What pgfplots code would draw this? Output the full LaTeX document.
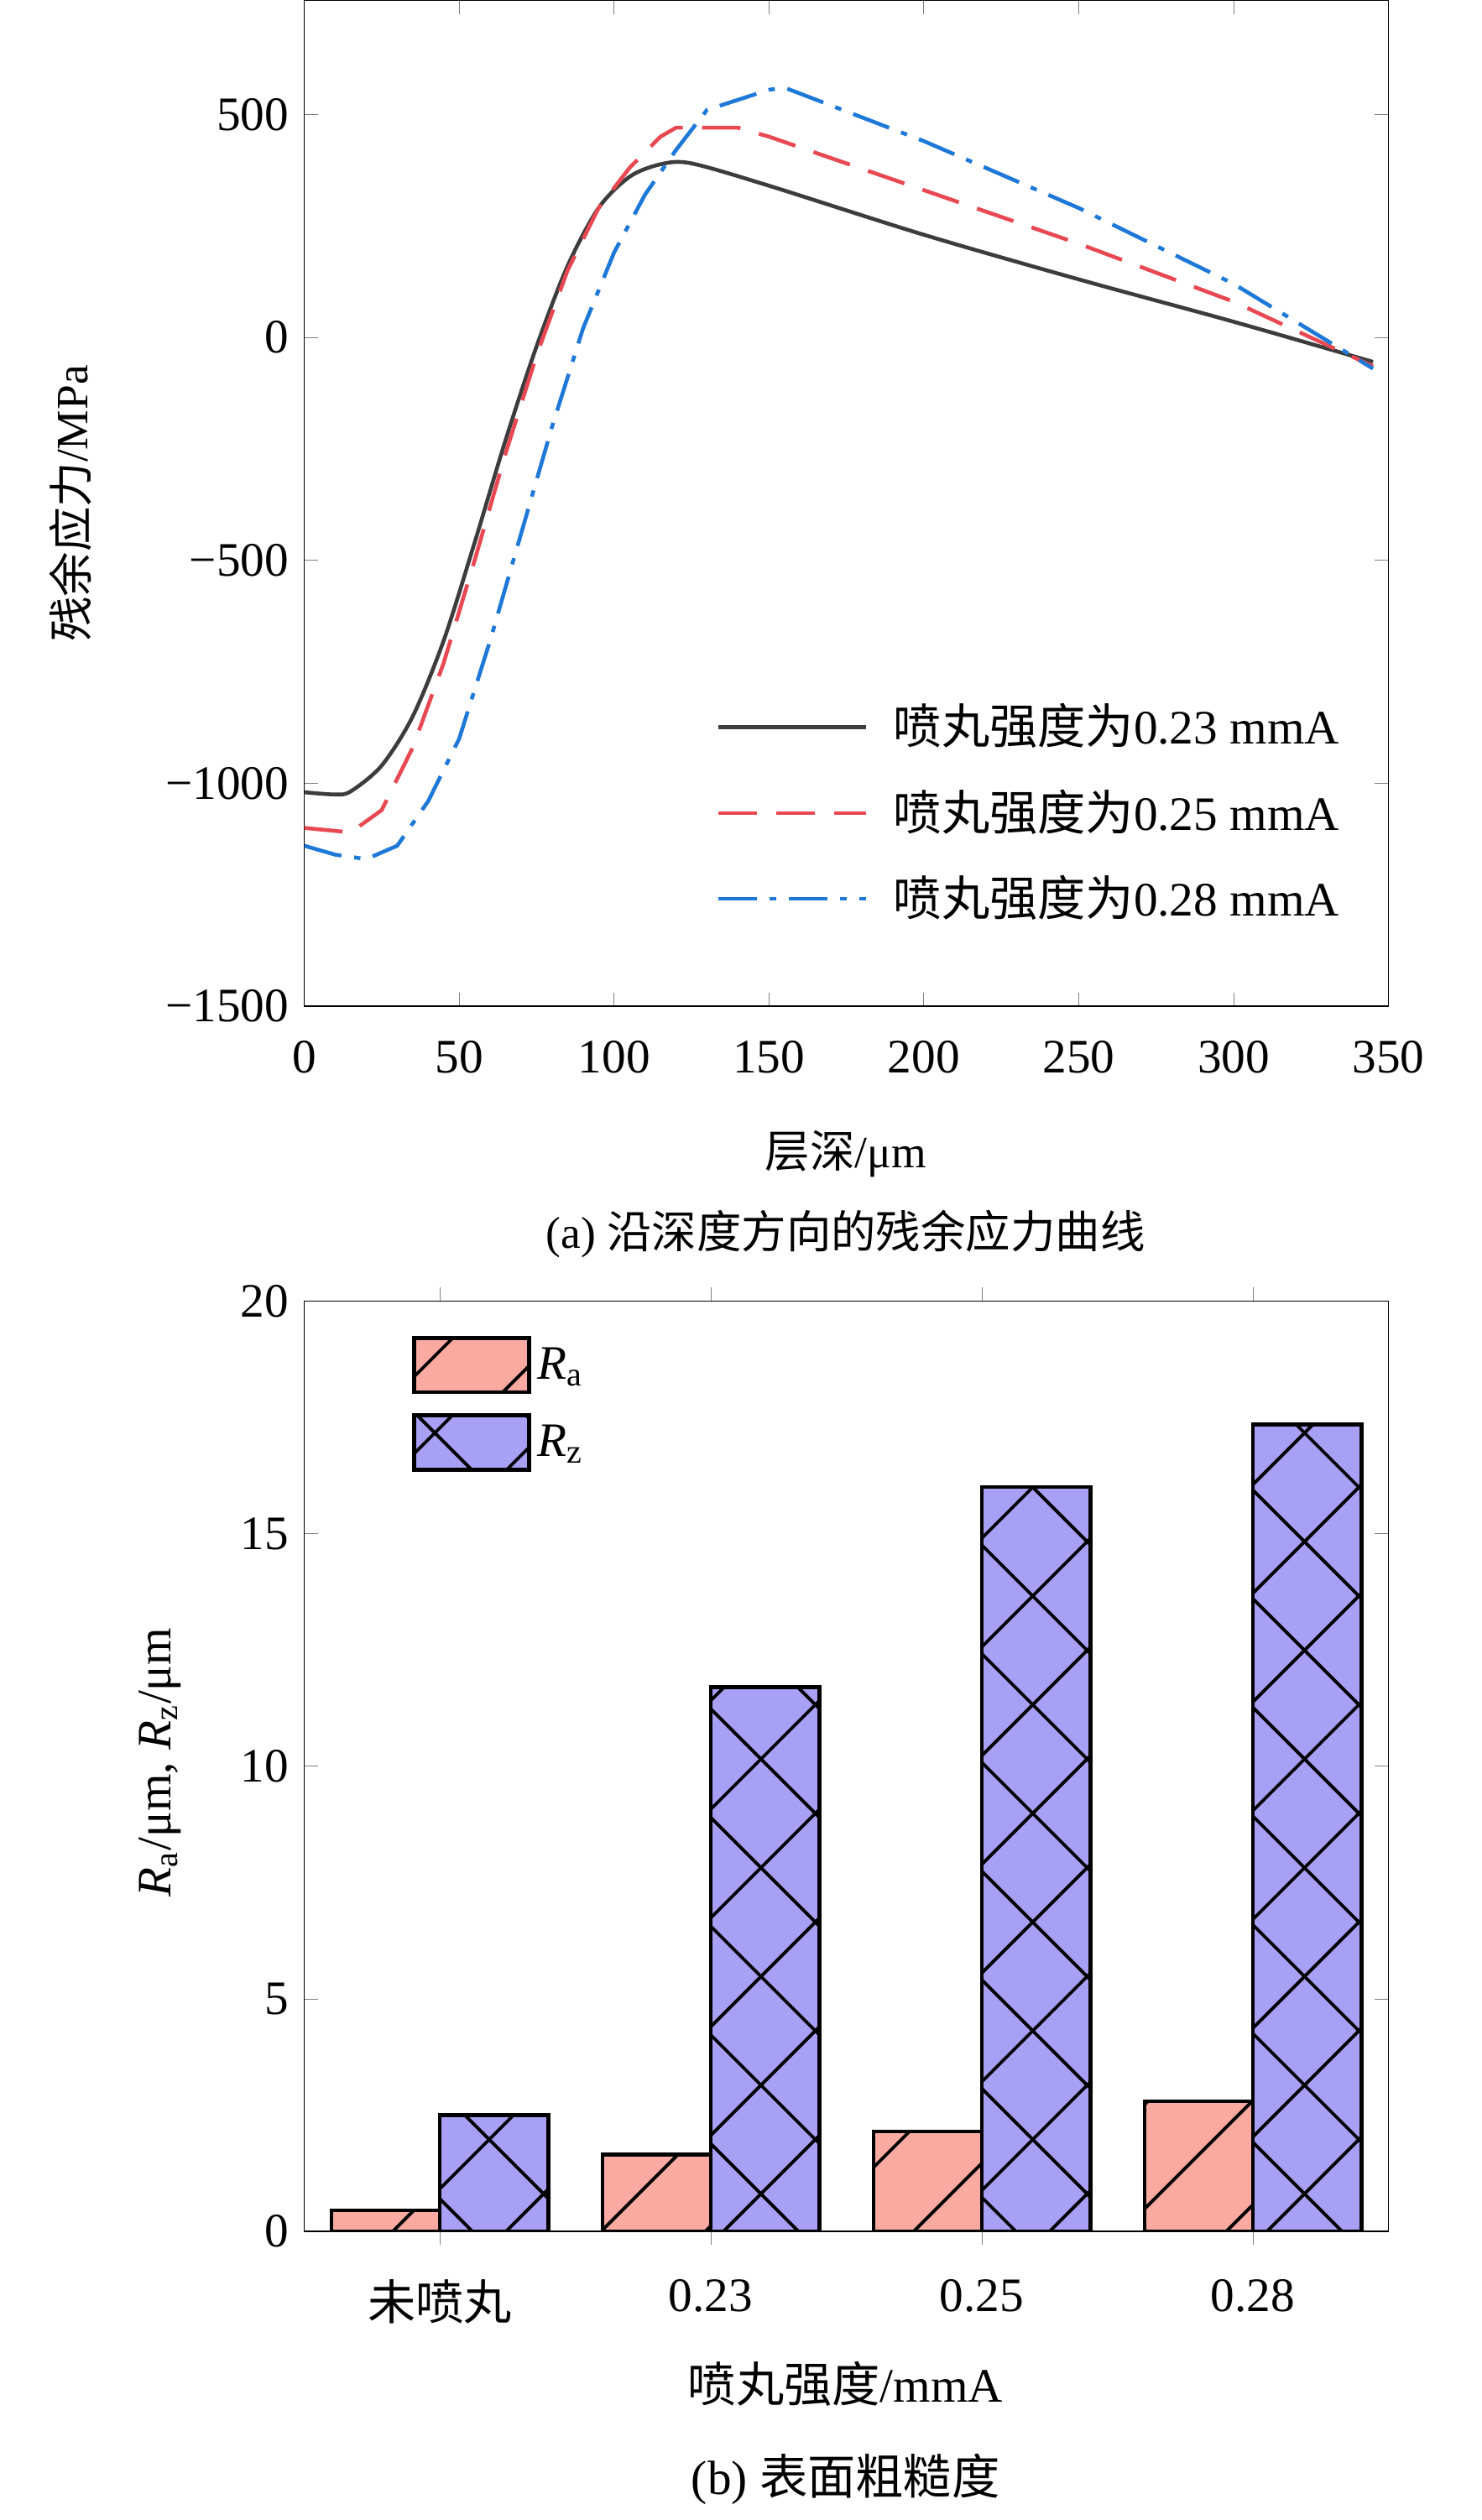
\documentclass[border=0pt]{standalone}
\usepackage{pgfplots}
\pgfplotsset{compat=1.18}
\usepackage{fontspec}
\setmainfont{Liberation Serif}
\newfontfamily\cjk{Noto Sans CJK SC}
\usetikzlibrary{patterns.meta}
\definecolor{cblk}{RGB}{60,60,60}
\definecolor{cred}{RGB}{232,72,82}
\definecolor{cblu}{RGB}{30,120,215}
\definecolor{fra}{RGB}{250,170,160}
\definecolor{frz}{RGB}{168,160,245}
\begin{document}
\fontsize{14}{17}\selectfont
\begin{tikzpicture}
\path (0,0) rectangle (462.5pt,784pt);
\begin{axis}[at={(95pt,470pt)},anchor=south west,scale only axis,
 width=338.5pt,height=314pt,xmin=0,xmax=350,ymin=-1500,ymax=755,
 xtick={0,50,...,350},xticklabels={0,50,100,150,200,250,300,350},
 ytick={-1500,-1000,-500,0,500},yticklabels={−1500,−1000,−500,0,500},
 tick label style={font=\rmfamily\fontsize{15}{18}\selectfont},
 xticklabel style={yshift=-6pt},
 legend style={draw=none,fill=none,font=\fontsize{15}{18}\selectfont,at={(0.97,0.07)},anchor=south east,row sep=8pt},
 legend cell align=left,
 legend image code/.code={\draw[#1] (0,0) -- (46pt,0);}]
\addplot[cblk,line width=1.2pt,smooth] coordinates {(0,-1020)(10,-1025)(15,-1018)(25,-960)(35,-850)(45,-680)(55,-460)(65,-230)(75,-20)(85,160)(95,290)(105,360)(115,388)(125,390)(150,340)(200,230)(250,130)(300,35)(345,-55)};
\addlegendentry{\hspace{6pt}{\cjk 喷丸强度为}0.23 mmA}
\addplot[cred,line width=1.2pt,dash pattern=on 12pt off 6pt] coordinates {(0,-1100)(15,-1110)(25,-1060)(35,-920)(45,-730)(55,-500)(65,-260)(75,-40)(85,150)(95,290)(105,380)(115,450)(120,470)(140,470)(150,450)(200,330)(250,210)(300,80)(345,-65)};
\addlegendentry{\hspace{6pt}{\cjk 喷丸强度为}0.25 mmA}
\addplot[cblu,line width=1.2pt,dash pattern=on 12pt off 4pt on 2pt off 4pt] coordinates {(0,-1140)(10,-1160)(20,-1170)(30,-1140)(40,-1040)(50,-900)(60,-680)(70,-440)(80,-200)(90,20)(100,190)(110,320)(120,420)(130,510)(150,555)(155,560)(200,440)(250,290)(300,120)(345,-70)};
\addlegendentry{\hspace{6pt}{\cjk 喷丸强度为}0.28 mmA}
\end{axis}
\node[rotate=90] at (22pt,627pt) {{\cjk 残余应力}/MPa};
\node at (264pt,424pt) {{\cjk 层深}/μm};
\node at (264pt,399pt) {(a) {\cjk 沿深度方向的残余应力曲线}};
\begin{axis}[at={(95pt,87.5pt)},anchor=south west,scale only axis,
 width=338.5pt,height=290.5pt,xmin=-0.5,xmax=3.5,ymin=0,ymax=20,
 ybar=0pt,bar width=0.4,
 xtick={0,1,2,3},xticklabels={{\cjk 未喷丸},0.23,0.25,0.28},
 ytick={0,5,10,15,20},yticklabels={0,5,10,15,20},
 tick label style={font=\rmfamily\fontsize{15}{18}\selectfont},
 xticklabel style={yshift=-6pt},
 legend style={draw=none,fill=none,font=\fontsize{15}{18}\selectfont,at={(0.09,0.97)},anchor=north west,row sep=6pt},
 legend cell align=left,
 legend image code/.code={\draw[#1] (0,-8pt) rectangle (36pt,9pt);}]
\addplot[draw=black,line width=1.2pt,fill=fra,postaction={pattern={Lines[angle=45,distance=23pt,line width=1pt]},pattern color=black}] coordinates {(0,0.45)(1,1.65)(2,2.15)(3,2.8)};
\addlegendentry{\textit{R}\textsubscript{a}}
\addplot[draw=black,line width=1.2pt,fill=frz,postaction={pattern={Lines[angle=45,distance=24pt,line width=1pt]},pattern color=black},postaction={pattern={Lines[angle=-45,distance=24pt,line width=1pt]},pattern color=black}] coordinates {(0,2.5)(1,11.7)(2,16.0)(3,17.35)};
\addlegendentry{\textit{R}\textsubscript{z}}
\end{axis}
\node[rotate=90] at (50pt,234pt) {\fontsize{15}{18}\selectfont\textit{R}\textsubscript{a}/μm, \textit{R}\textsubscript{z}/μm};
\node at (264pt,40pt) {\fontsize{15}{18}\selectfont{\cjk 喷丸强度}/mmA};
\node at (264pt,10pt) {\fontsize{15}{18}\selectfont(b) {\cjk 表面粗糙度}};
\end{tikzpicture}
\end{document}
